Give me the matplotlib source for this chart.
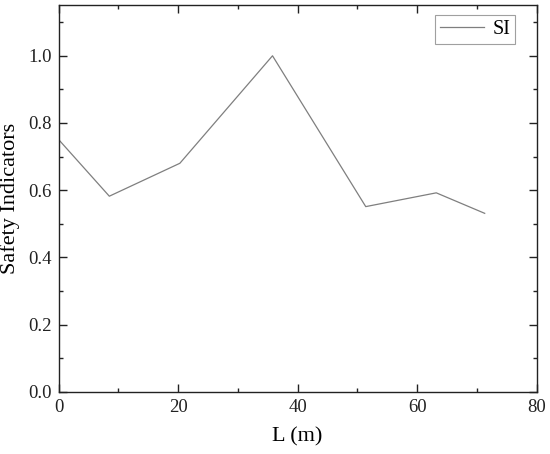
import numpy as np
import matplotlib
matplotlib.use('Agg')
import matplotlib.pyplot as plt
from matplotlib.ticker import MultipleLocator

# data
L = [0, 8.5, 20.3, 35.8, 51.4, 63.2, 71.3]
si = [0.751, 0.582, 0.680, 1.000, 0.551, 0.592, 0.531]

plt.rcParams['font.family'] = ['Liberation Serif', 'DejaVu Serif']

fig = plt.figure(figsize=(5.5, 4.54), dpi=100)
ax = fig.add_axes([0.1064, 0.1372, 0.8694, 0.8524])

ax.plot(L, si, color='#7f7f7f', lw=0.9, label='SI')

ax.set_xlim(0, 80)
ax.set_ylim(0, 1.152)
ax.xaxis.set_major_locator(MultipleLocator(20))
ax.xaxis.set_minor_locator(MultipleLocator(10))
ax.yaxis.set_major_locator(MultipleLocator(0.2))
ax.yaxis.set_minor_locator(MultipleLocator(0.1))
ax.yaxis.set_major_formatter(plt.FormatStrFormatter('%.1f'))

ax.tick_params(which='both', direction='in', top=True, right=True,
               width=1.0, labelsize=13.5, colors='#222222')
ax.tick_params(which='major', length=6, pad=5)
ax.tick_params(which='minor', length=3)
for s in ax.spines.values():
    s.set_linewidth(1.0)
    s.set_color('#222222')

ax.set_xlabel('L (m)', fontsize=16, labelpad=8)
ax.set_ylabel('Safety Indicators', fontsize=16, labelpad=6)

leg = ax.legend(loc='upper right', bbox_to_anchor=(0.955, 0.973),
                fontsize=14.5, handlelength=2.2, fancybox=False,
                edgecolor='#888888', borderpad=0.25, handletextpad=0.4,
                borderaxespad=0)
leg.get_frame().set_linewidth(0.8)

fig.savefig('out.png', dpi=100)
